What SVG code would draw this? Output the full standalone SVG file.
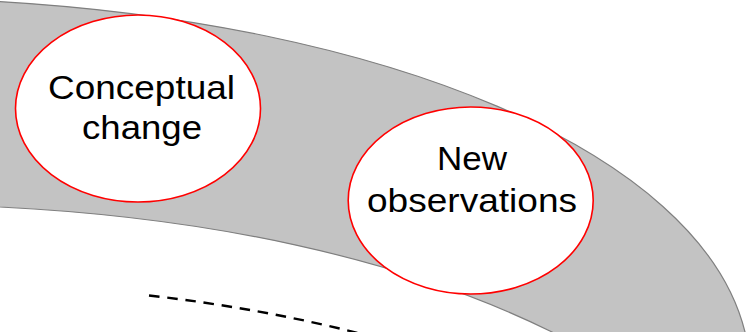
<svg xmlns="http://www.w3.org/2000/svg" width="756" height="332" viewBox="0 0 756 332">
  <style>
    .band { fill: #c3c3c3; stroke: #7f7f7f; stroke-width: 1.2; }
    .node ellipse { fill: #ffffff; stroke: #ff0000; stroke-width: 1.6; }
    .node text { font-family: "Liberation Sans", Arial, sans-serif; font-size: 34px; fill: #000000; text-anchor: middle; }
    .dashed { fill: none; stroke: #000000; stroke-width: 2.4; stroke-dasharray: 10.5 7.8; }
  </style>

  <!-- curved grey band -->
  <path class="band" d="M -10,1 C 380,22 700,150 745,332 L 752,370 L 575,370 L 560,336 C 400,255 200,217 0,207 L -10,206 Z"/>

  <g id="connectors">
    <path class="dashed" d="M 149,295.5 Q 260,308 362,334"/>
  </g>

  <g id="conceptual-change" class="node">
    <ellipse cx="138" cy="108.5" rx="122.5" ry="93.5"/>
    <text x="141.5" y="98.5" textLength="187" lengthAdjust="spacingAndGlyphs">Conceptual</text>
    <text x="142" y="138.5" textLength="120" lengthAdjust="spacingAndGlyphs">change</text>
  </g>

  <g id="new-observations" class="node">
    <ellipse cx="470.7" cy="200.5" rx="122.5" ry="93.5"/>
    <text x="472" y="170" textLength="70" lengthAdjust="spacingAndGlyphs">New</text>
    <text x="472" y="211.5" textLength="210" lengthAdjust="spacingAndGlyphs">observations</text>
  </g>
</svg>
